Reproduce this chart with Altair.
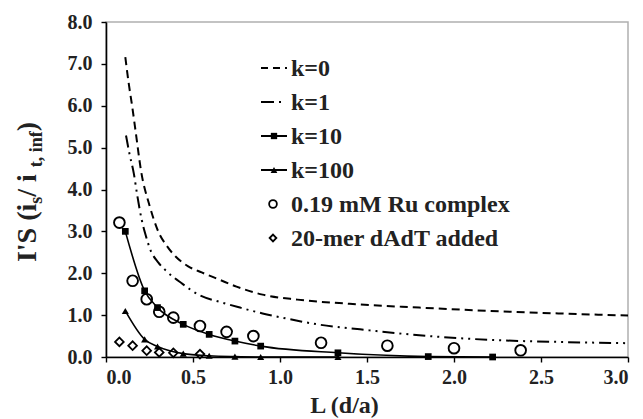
import altair as alt
import pandas as pd

# ---- data ----
k0_L = [0.111, 0.13, 0.15, 0.175, 0.2, 0.25, 0.3, 0.35, 0.4, 0.47, 0.55, 0.65, 0.75, 0.9, 1.1, 1.4, 1.8, 2.2, 2.6, 3.0]
k0_v = [7.16, 6.55, 6.0, 5.24, 4.48, 3.62, 3.0, 2.65, 2.40, 2.17, 2.02, 1.85, 1.68, 1.49, 1.37, 1.27, 1.18, 1.10, 1.04, 0.99]

k1_L = [0.115, 0.135, 0.16, 0.18, 0.205, 0.23, 0.253, 0.3, 0.34, 0.435, 0.54, 0.65, 0.77, 0.9, 1.0, 1.23, 1.46, 1.8, 2.2, 2.6, 3.0]
k1_v = [5.29, 4.85, 4.38, 3.85, 3.28, 2.88, 2.58, 2.26, 2.08, 1.76, 1.47, 1.32, 1.18, 1.04, 0.95, 0.77, 0.66, 0.52, 0.41, 0.36, 0.33]

k10_L = [0.111, 0.222, 0.296, 0.444, 0.593, 0.741, 0.889, 1.333, 1.852, 2.222]
k10_v = [3.0, 1.58, 1.18, 0.78, 0.54, 0.38, 0.26, 0.10, 0.01, 0.0]

k100_L = [0.111, 0.222, 0.296, 0.444, 0.593, 0.741, 0.889, 1.333]
k100_v = [1.10, 0.42, 0.25, 0.08, 0.03, 0.01, 0.0, 0.0]

ru_L = [0.077, 0.153, 0.234, 0.306, 0.387, 0.54, 0.693, 0.847, 1.236, 1.617, 2.0, 2.383]
ru_v = [3.21, 1.82, 1.38, 1.08, 0.94, 0.74, 0.60, 0.50, 0.34, 0.27, 0.21, 0.16]

da_L = [0.077, 0.153, 0.234, 0.306, 0.387, 0.54]
da_v = [0.36, 0.27, 0.15, 0.11, 0.10, 0.07]

legend_labels = ["k=0", "k=1", "k=10", "k=100", "0.19 mM Ru complex", "20-mer dAdT added"]
x_ticks = [0.0, 0.5, 1.0, 1.5, 2.0, 2.5, 3.0]
y_ticks = [0, 1, 2, 3, 4, 5, 6, 7, 8]

FONT = "Liberation Serif"
W, H = 522, 335

def df(L, v):
    return pd.DataFrame({"L": L, "v": v})

xs = alt.Scale(domain=[0, 3])
ys = alt.Scale(domain=[0, 8])
X = alt.X("L:Q", scale=xs, axis=alt.Axis(values=x_ticks, format=".1f", title="L (d/a)",
                                          titleX=238, titleY=36))
Y = alt.Y("v:Q", scale=ys, axis=alt.Axis(values=y_ticks, format=".1f", title=None))

base_line = dict(color="black", interpolate="monotone", clip=True)

l0 = alt.Chart(df(k0_L, k0_v)).mark_line(strokeWidth=2, strokeDash=[8, 5], **base_line).encode(x=X, y=Y)
l1 = alt.Chart(df(k1_L, k1_v)).mark_line(strokeWidth=2, strokeDash=[12, 5, 2, 5, 2, 5], **base_line).encode(x="L:Q", y="v:Q")
l10 = alt.Chart(df(k10_L, k10_v)).mark_line(strokeWidth=1.6, **base_line).encode(x="L:Q", y="v:Q")
p10 = alt.Chart(df(k10_L, k10_v)).mark_point(shape="square", filled=True, color="black", size=45, opacity=1).encode(x="L:Q", y="v:Q")
l100 = alt.Chart(df(k100_L, k100_v)).mark_line(strokeWidth=1.6, **base_line).encode(x="L:Q", y="v:Q")
p100 = alt.Chart(df(k100_L, k100_v)).mark_point(shape="triangle-up", filled=True, color="black", size=50, opacity=1).encode(x="L:Q", y="v:Q")
pru = alt.Chart(df(ru_L, ru_v)).mark_point(shape="circle", filled=False, color="black", size=115, strokeWidth=1.9, opacity=1).encode(x="L:Q", y="v:Q")
pda = alt.Chart(df(da_L, da_v)).mark_point(shape="diamond", filled=False, color="black", size=75, strokeWidth=1.8, opacity=1).encode(x="L:Q", y="v:Q")

# ---- manual legend (pixel positions in the plot area) ----
LEG_Y0, LEG_DY = 46, 34
line_x1, line_x2, sym_x, txt_x = 155, 181, 167, 185
rows = list(range(len(legend_labels)))
leg_df = pd.DataFrame({"label": legend_labels, "row": rows,
                       "y": [LEG_Y0 + i * LEG_DY for i in rows]})
YP = alt.Y("y:Q", scale=None, axis=None)

leg_text = alt.Chart(leg_df).mark_text(align="left", baseline="middle", font=FONT, fontWeight="bold",
                                       fontSize=24, color="#222", dy=1).encode(
    x=alt.value(txt_x), y=YP, text="label:N")

def leg_rule(i, dash=None):
    kw = dict(color="black", strokeWidth=2)
    if dash:
        kw["strokeDash"] = dash
    return alt.Chart(leg_df[leg_df.row == i]).mark_rule(**kw).encode(
        x=alt.value(line_x1), x2=alt.value(line_x2), y=YP)

lg0 = leg_rule(0, [7, 5])
lg1 = leg_rule(1, [13, 5, 2, 30])
lg10 = leg_rule(2)
lg100 = leg_rule(3)
lgp10 = alt.Chart(leg_df[leg_df.row == 2]).mark_point(shape="square", filled=True, color="black", size=40, opacity=1).encode(
    x=alt.value((line_x1 + line_x2) / 2), y=YP)
lgp100 = alt.Chart(leg_df[leg_df.row == 3]).mark_point(shape="triangle-up", filled=True, color="black", size=45, opacity=1).encode(
    x=alt.value((line_x1 + line_x2) / 2), y=YP)
lgru = alt.Chart(leg_df[leg_df.row == 4]).mark_point(shape="circle", filled=False, color="black", size=60, strokeWidth=1.8, opacity=1).encode(
    x=alt.value(sym_x), y=YP)
lgda = alt.Chart(leg_df[leg_df.row == 5]).mark_point(shape="diamond", filled=False, color="black", size=45, strokeWidth=1.8, opacity=1).encode(
    x=alt.value(sym_x), y=YP)

# ---- y-axis title with subscripts, made of text pieces ----
MAIN, SUB = 28, 18
em = {"I": .389, "'": .278, "S": .556, " ": .25, "(": .333, "i": .278, "s": .389, "/": .278,
      "t": .333, ",": .25, "n": .556, "f": .333, ")": .333}
pieces = [("I'S (i", MAIN, 0), ("s", SUB, 6), (" / i", MAIN, 0), ("t, inf", SUB, 6), (")", MAIN, 0)]
widths = [sum(em[c] for c in t) * fs for t, fs, _ in pieces]
total = sum(widths)
center_y = 170
base_x = -70
start = center_y + total / 2
tp = []
pos = start
for (t, fs, dx), w in zip(pieces, widths):
    tp.append({"t": t, "fs": fs, "x": base_x + dx, "y": pos})
    pos -= w
tdf = pd.DataFrame(tp)
ytitle = alt.Chart(tdf).mark_text(angle=270, align="left", baseline="alphabetic", font=FONT,
                                  fontWeight="bold", color="#222").encode(
    x=alt.X("x:Q", scale=None, axis=None), y=YP,
    text="t:N", size=alt.Size("fs:Q", scale=None, legend=None))

chart = alt.layer(l0, l1, l10, p10, l100, p100, pru, pda,
                  lg0, lg1, lg10, lg100, lgp10, lgp100, lgru, lgda, leg_text, ytitle).properties(
    width=W, height=H,
    padding={"left": 106, "top": 22, "right": 15, "bottom": 62},
    autosize=alt.AutoSizeParams(type="none"),
    background="white",
).configure_view(stroke="#b0b0b0", strokeWidth=1.5).configure_axis(
    domainColor="black", domainWidth=1.6, tickColor="black", tickWidth=1.4, tickSize=5,
    grid=False, labelFont=FONT, labelFontWeight="bold", labelFontSize=20, labelColor="#222",
    titleFont=FONT, titleFontWeight="bold", titleFontSize=24, titleColor="#222",
    labelPadding=5,
).configure_axisY(labelPadding=9)

chart.save("out.html", embed_options={"renderer": "svg", "actions": False})
